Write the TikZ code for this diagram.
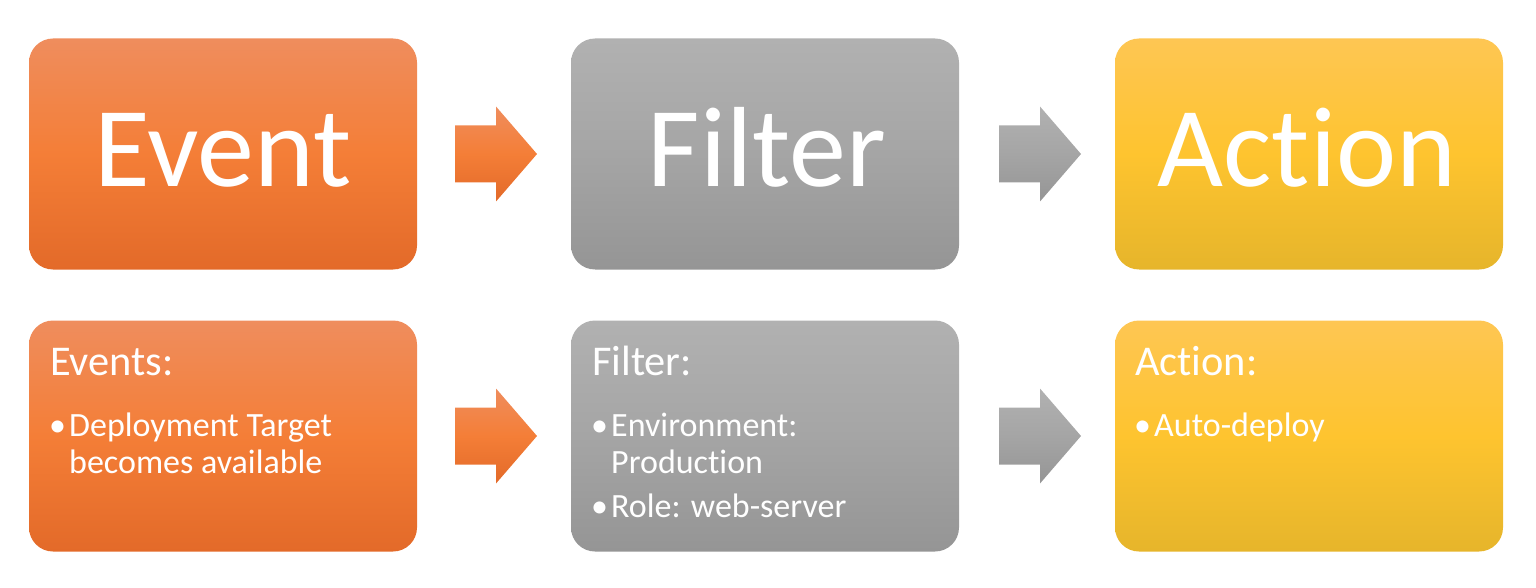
\documentclass[tikz,border=0pt]{standalone}
\usepackage{fontspec}
\setmainfont{Carlito}[Ligatures=NoCommon]
\begin{document}
\begin{tikzpicture}[x=1pt,y=-1pt,
  box/.style={rounded corners=24pt, minimum width=388pt, minimum height=231pt, inner sep=0pt, draw=none},
  orangebox/.style={box, top color=orTop, bottom color=orBot, middle color=orMid},
  graybox/.style={box, top color=grTop, bottom color=grBot, middle color=grMid},
  yellowbox/.style={box, top color=yeTop, bottom color=yeBot, middle color=yeMid},
  bigtxt/.style={text=white, inner sep=0pt, anchor=base, font=\fontsize{114}{114}\selectfont},
  ttl/.style={text=white, inner sep=0pt, anchor=base west, font=\fontsize{42.4}{42}\selectfont},
  itm/.style={text=white, inner sep=0pt, anchor=base west, font=\fontsize{34}{37}\selectfont},
  blt/.style={text=white, inner sep=0pt, anchor=base west, font=\fontsize{34}{37}\selectfont}
]
\definecolor{orTop}{HTML}{EF8D5D}
\definecolor{orMid}{HTML}{F47E37}
\definecolor{orBot}{HTML}{E36A29}
\definecolor{grTop}{HTML}{B1B1B1}
\definecolor{grMid}{HTML}{A5A5A5}
\definecolor{grBot}{HTML}{959595}
\definecolor{yeTop}{HTML}{FEC653}
\definecolor{yeMid}{HTML}{FEC42F}
\definecolor{yeBot}{HTML}{E6B52B}
\useasboundingbox (0,0) rectangle (1536,588);

% top row
\node[orangebox] (evt) at (223,154) {};
\node[graybox]   (flt) at (765,154) {};
\node[yellowbox] (act) at (1309,154) {};
\node[bigtxt] (evtT) at (223,187) {Event};
\node[bigtxt] (fltT) at (767,187) {Filter};
\node[bigtxt] (actT) at (1307,187) {Action};

% bottom row
\node[orangebox] (evb) at (223,436) {};
\node[graybox]   (flb) at (765,436) {};
\node[yellowbox] (acb) at (1309,436) {};

\node[ttl] (evbT) at (50,375) {Events:};
\node[blt] (evb1) at (49,436) {•};
\node[itm] (evbI) at (69,436) {Deployment Target};
\node[itm] (evbJ) at (69,473) {becomes available};

\node[ttl] (flbT) at (592,375) {Filter:};
\node[blt] (flb1) at (591,436) {•};
\node[itm] (flbI) at (611,436) {Environment:};
\node[itm] (flbJ) at (611,473) {Production};
\node[blt] (flb2) at (591,517) {•};
\node[itm] (flbK) at (611,517) {Role: web-server};

\node[ttl] (acbT) at (1135,375) {Action:};
\node[blt] (acb1) at (1134,436) {•};
\node[itm] (acbI) at (1154,436) {Auto-deploy};

% block arrows
\foreach \ax/\ay/\ct/\cm/\cb in {455/154/orTop/orMid/orBot, 999/154/grTop/grMid/grBot, 455/436/orTop/orMid/orBot, 999/436/grTop/grMid/grBot}{
  \shade[top color=\ct, bottom color=\cb, middle color=\cm]
    (\ax,\ay-28.5) -- ++(41,0) -- ++(0,-19) -- ++(41,47.5) -- ++(-41,47.5) -- ++(0,-19) -- ++(-41,0) -- cycle;
}
\end{tikzpicture}
\end{document}
